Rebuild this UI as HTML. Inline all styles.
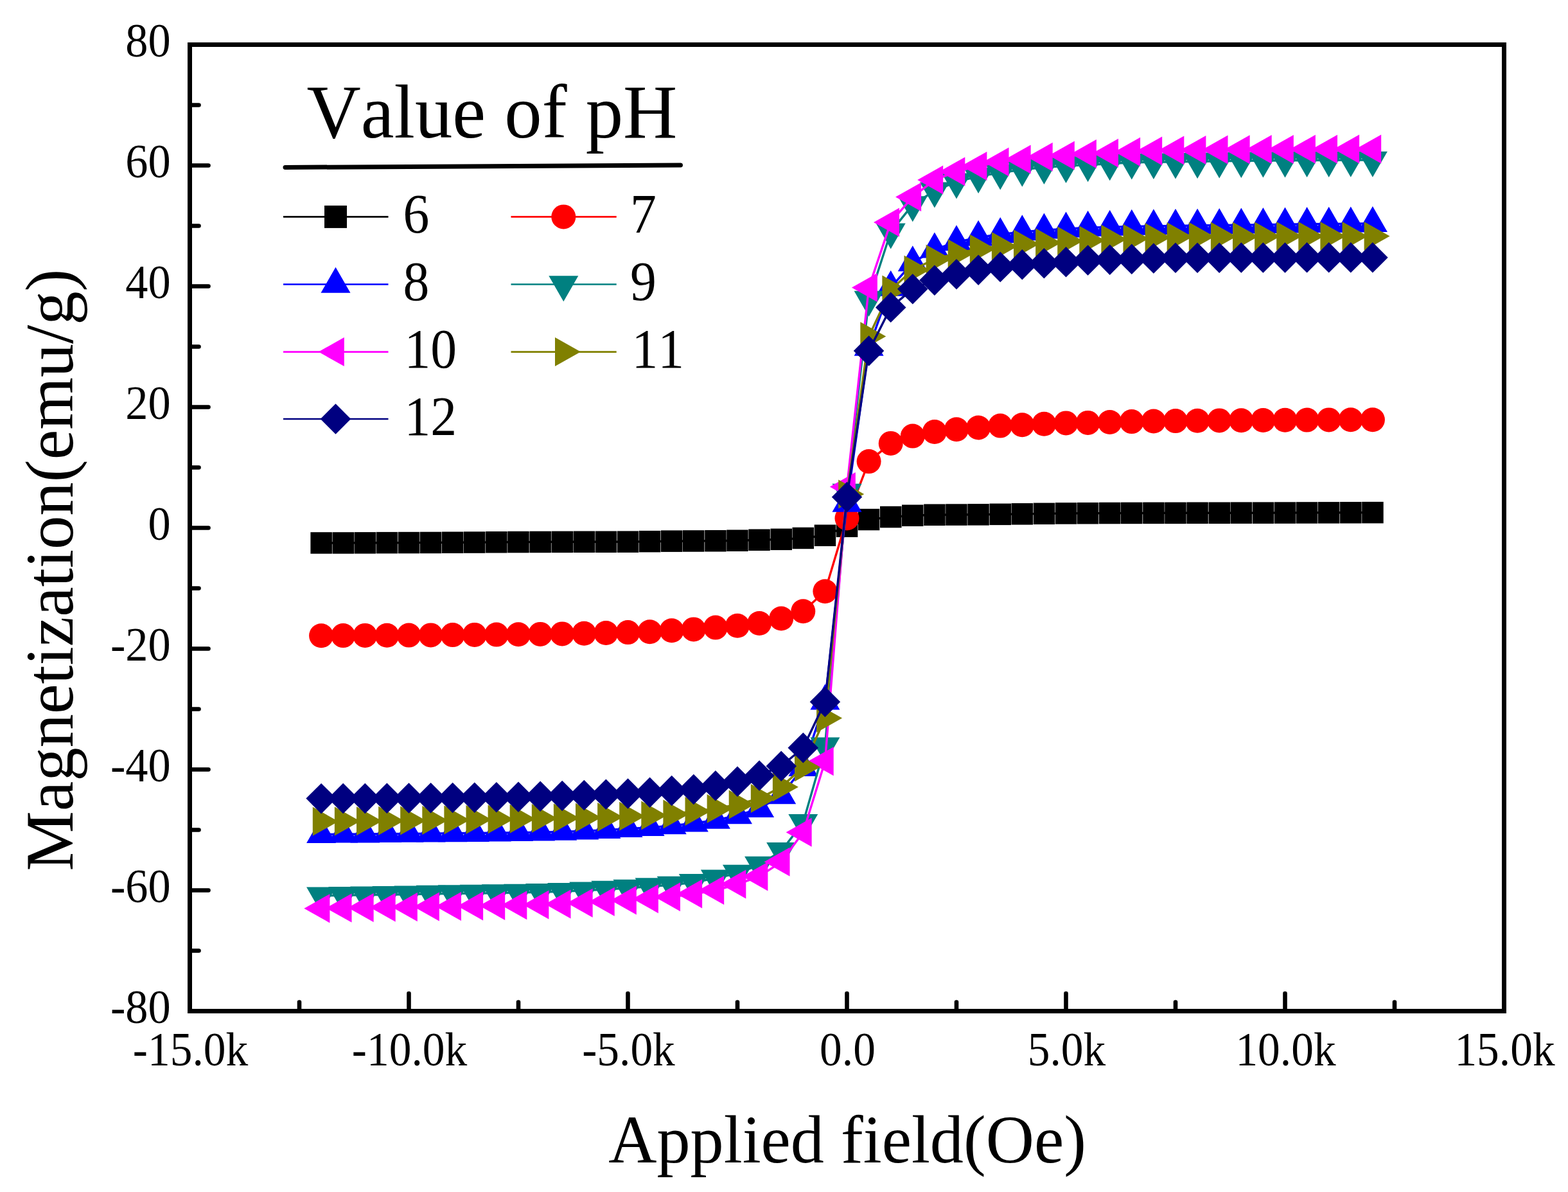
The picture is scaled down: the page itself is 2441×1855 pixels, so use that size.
<!DOCTYPE html>
<html><head><meta charset="utf-8"><title>Magnetization vs Applied field</title>
<style>
html,body{margin:0;padding:0;background:#fff;}
body{width:2441px;height:1855px;overflow:hidden;}
svg{display:block;}
text{font-family:"Liberation Serif","Times New Roman",serif;fill:#000;font-kerning:none;font-variant-ligatures:none;}
</style></head><body>
<svg width="2441" height="1855" viewBox="0 0 2441 1855">
<rect width="2441" height="1855" fill="#fff"/>
<g fill="#000000" stroke="none">
<polyline fill="none" stroke="#000000" stroke-width="3.4" stroke-linejoin="round" points="500.1,845 534.2,844.9 568.3,844.8 602.4,844.7 636.5,844.6 670.6,844.4 704.7,844.2 738.8,844 772.9,843.8 807,843.6 841.1,843.4 875.2,843.3 909.3,843.3 943.4,843.2 977.5,843.1 1011.6,842.7 1045.7,842.2 1079.8,841.9 1113.9,841.7 1148,841.2 1182.1,840.3 1216.2,839.4 1250.3,837.5 1284.4,833.2 1318.5,819.1 1352.6,808.5 1386.7,804.6 1420.8,802.2 1454.9,801.3 1489,801 1523.1,800.8 1557.2,800.4 1591.3,799.9 1625.4,799.4 1659.5,798.9 1693.6,798.7 1727.7,798.6 1761.8,798.5 1795.9,798.4 1830,798.3 1864.1,798.3 1898.2,798.2 1932.3,798.2 1966.4,798.1 2000.5,798 2034.6,797.9 2068.7,797.8 2102.8,797.7 2136.9,797.6"/>
<rect x="483.4" y="828.2" width="33.5" height="33.5"/>
<rect x="517.5" y="828.2" width="33.5" height="33.5"/>
<rect x="551.5" y="828.1" width="33.5" height="33.5"/>
<rect x="585.6" y="827.9" width="33.5" height="33.5"/>
<rect x="619.8" y="827.8" width="33.5" height="33.5"/>
<rect x="653.9" y="827.7" width="33.5" height="33.5"/>
<rect x="688" y="827.5" width="33.5" height="33.5"/>
<rect x="722" y="827.3" width="33.5" height="33.5"/>
<rect x="756.1" y="827" width="33.5" height="33.5"/>
<rect x="790.2" y="826.8" width="33.5" height="33.5"/>
<rect x="824.4" y="826.7" width="33.5" height="33.5"/>
<rect x="858.5" y="826.6" width="33.5" height="33.5"/>
<rect x="892.5" y="826.5" width="33.5" height="33.5"/>
<rect x="926.6" y="826.5" width="33.5" height="33.5"/>
<rect x="960.8" y="826.4" width="33.5" height="33.5"/>
<rect x="994.9" y="825.9" width="33.5" height="33.5"/>
<rect x="1029" y="825.4" width="33.5" height="33.5"/>
<rect x="1063" y="825.2" width="33.5" height="33.5"/>
<rect x="1097.2" y="825" width="33.5" height="33.5"/>
<rect x="1131.2" y="824.5" width="33.5" height="33.5"/>
<rect x="1165.3" y="823.5" width="33.5" height="33.5"/>
<rect x="1199.5" y="822.6" width="33.5" height="33.5"/>
<rect x="1233.5" y="820.7" width="33.5" height="33.5"/>
<rect x="1267.7" y="816.5" width="33.5" height="33.5"/>
<rect x="1301.8" y="802.4" width="33.5" height="33.5"/>
<rect x="1335.8" y="791.8" width="33.5" height="33.5"/>
<rect x="1370" y="787.8" width="33.5" height="33.5"/>
<rect x="1404" y="785.5" width="33.5" height="33.5"/>
<rect x="1438.2" y="784.5" width="33.5" height="33.5"/>
<rect x="1472.2" y="784.3" width="33.5" height="33.5"/>
<rect x="1506.3" y="784.1" width="33.5" height="33.5"/>
<rect x="1540.5" y="783.6" width="33.5" height="33.5"/>
<rect x="1574.5" y="783.1" width="33.5" height="33.5"/>
<rect x="1608.7" y="782.6" width="33.5" height="33.5"/>
<rect x="1642.8" y="782.2" width="33.5" height="33.5"/>
<rect x="1676.8" y="782" width="33.5" height="33.5"/>
<rect x="1711" y="781.8" width="33.5" height="33.5"/>
<rect x="1745" y="781.7" width="33.5" height="33.5"/>
<rect x="1779.2" y="781.6" width="33.5" height="33.5"/>
<rect x="1813.2" y="781.6" width="33.5" height="33.5"/>
<rect x="1847.3" y="781.5" width="33.5" height="33.5"/>
<rect x="1881.5" y="781.5" width="33.5" height="33.5"/>
<rect x="1915.5" y="781.4" width="33.5" height="33.5"/>
<rect x="1949.7" y="781.4" width="33.5" height="33.5"/>
<rect x="1983.8" y="781.3" width="33.5" height="33.5"/>
<rect x="2017.8" y="781.2" width="33.5" height="33.5"/>
<rect x="2051.9" y="781.1" width="33.5" height="33.5"/>
<rect x="2086.1" y="781" width="33.5" height="33.5"/>
<rect x="2120.2" y="780.9" width="33.5" height="33.5"/>
</g>
<g fill="#FF0000" stroke="none">
<polyline fill="none" stroke="#FF0000" stroke-width="3.4" stroke-linejoin="round" points="500.1,989.2 534.2,989.1 568.3,988.9 602.4,988.7 636.5,988.6 670.6,988.4 704.7,988.1 738.8,987.9 772.9,987.6 807,987.3 841.1,986.9 875.2,986.4 909.3,985.7 943.4,985 977.5,984.1 1011.6,983.2 1045.7,981.3 1079.8,979.4 1113.9,976.6 1148,973.8 1182.1,970 1216.2,962.5 1250.3,951.2 1284.4,920.2 1318.5,806.5 1352.6,718.1 1386.7,689.9 1420.8,678.6 1454.9,672 1489,668.3 1523.1,665.5 1557.2,662.6 1591.3,661.2 1625.4,659.8 1659.5,658.4 1693.6,657.9 1727.7,657 1761.8,656.1 1795.9,655.5 1830,655.1 1864.1,654.7 1898.2,654.4 1932.3,654.2 1966.4,654 2000.5,653.8 2034.6,653.6 2068.7,653.4 2102.8,653.3 2136.9,653.2"/>
<circle cx="500.1" cy="989.2" r="19"/>
<circle cx="534.2" cy="989.1" r="19"/>
<circle cx="568.3" cy="988.9" r="19"/>
<circle cx="602.4" cy="988.7" r="19"/>
<circle cx="636.5" cy="988.6" r="19"/>
<circle cx="670.6" cy="988.4" r="19"/>
<circle cx="704.7" cy="988.1" r="19"/>
<circle cx="738.8" cy="987.9" r="19"/>
<circle cx="772.9" cy="987.6" r="19"/>
<circle cx="807" cy="987.3" r="19"/>
<circle cx="841.1" cy="986.9" r="19"/>
<circle cx="875.2" cy="986.4" r="19"/>
<circle cx="909.3" cy="985.7" r="19"/>
<circle cx="943.4" cy="985" r="19"/>
<circle cx="977.5" cy="984.1" r="19"/>
<circle cx="1011.6" cy="983.2" r="19"/>
<circle cx="1045.7" cy="981.3" r="19"/>
<circle cx="1079.8" cy="979.4" r="19"/>
<circle cx="1113.9" cy="976.6" r="19"/>
<circle cx="1148" cy="973.8" r="19"/>
<circle cx="1182.1" cy="970" r="19"/>
<circle cx="1216.2" cy="962.5" r="19"/>
<circle cx="1250.3" cy="951.2" r="19"/>
<circle cx="1284.4" cy="920.2" r="19"/>
<circle cx="1318.5" cy="806.5" r="19"/>
<circle cx="1352.6" cy="718.1" r="19"/>
<circle cx="1386.7" cy="689.9" r="19"/>
<circle cx="1420.8" cy="678.6" r="19"/>
<circle cx="1454.9" cy="672" r="19"/>
<circle cx="1489" cy="668.3" r="19"/>
<circle cx="1523.1" cy="665.5" r="19"/>
<circle cx="1557.2" cy="662.6" r="19"/>
<circle cx="1591.3" cy="661.2" r="19"/>
<circle cx="1625.4" cy="659.8" r="19"/>
<circle cx="1659.5" cy="658.4" r="19"/>
<circle cx="1693.6" cy="657.9" r="19"/>
<circle cx="1727.7" cy="657" r="19"/>
<circle cx="1761.8" cy="656.1" r="19"/>
<circle cx="1795.9" cy="655.5" r="19"/>
<circle cx="1830" cy="655.1" r="19"/>
<circle cx="1864.1" cy="654.7" r="19"/>
<circle cx="1898.2" cy="654.4" r="19"/>
<circle cx="1932.3" cy="654.2" r="19"/>
<circle cx="1966.4" cy="654" r="19"/>
<circle cx="2000.5" cy="653.8" r="19"/>
<circle cx="2034.6" cy="653.6" r="19"/>
<circle cx="2068.7" cy="653.4" r="19"/>
<circle cx="2102.8" cy="653.3" r="19"/>
<circle cx="2136.9" cy="653.2" r="19"/>
</g>
<g fill="#0000FF" stroke="none">
<polyline fill="none" stroke="#0000FF" stroke-width="3.4" stroke-linejoin="round" points="500.1,1298.5 534.2,1298.3 568.3,1298 602.4,1297.8 636.5,1297.5 670.6,1297.1 704.7,1296.8 738.8,1296.5 772.9,1296.2 807,1295.8 841.1,1295.3 875.2,1294.4 909.3,1293.2 943.4,1291.6 977.5,1289.8 1011.6,1287.7 1045.7,1284.9 1079.8,1281.2 1113.9,1276.5 1148,1268.9 1182.1,1258.6 1216.2,1237.9 1250.3,1194.7 1284.4,1091.3 1318.5,783.4 1352.6,540.4 1386.7,447.4 1420.8,408.8 1454.9,388.2 1489,376.9 1523.1,369.4 1557.2,364.7 1591.3,360.9 1625.4,358.1 1659.5,356.2 1693.6,354.3 1727.7,353.4 1761.8,352.4 1795.9,351.9 1830,351.5 1864.1,351 1898.2,350.5 1932.3,350.1 1966.4,349.6 2000.5,349.2 2034.6,348.8 2068.7,348.4 2102.8,348.1 2136.9,347.7"/>
<polygon points="500.1,1271.9 523.1,1311.9 477.1,1311.9"/>
<polygon points="534.2,1271.6 557.2,1311.6 511.2,1311.6"/>
<polygon points="568.3,1271.4 591.3,1311.4 545.3,1311.4"/>
<polygon points="602.4,1271.1 625.4,1311.1 579.4,1311.1"/>
<polygon points="636.5,1270.8 659.5,1310.8 613.5,1310.8"/>
<polygon points="670.6,1270.5 693.6,1310.5 647.6,1310.5"/>
<polygon points="704.7,1270.2 727.7,1310.2 681.7,1310.2"/>
<polygon points="738.8,1269.9 761.8,1309.9 715.8,1309.9"/>
<polygon points="772.9,1269.5 795.9,1309.5 749.9,1309.5"/>
<polygon points="807,1269.1 830,1309.1 784,1309.1"/>
<polygon points="841.1,1268.6 864.1,1308.6 818.1,1308.6"/>
<polygon points="875.2,1267.8 898.2,1307.8 852.2,1307.8"/>
<polygon points="909.3,1266.5 932.3,1306.5 886.3,1306.5"/>
<polygon points="943.4,1264.9 966.4,1304.9 920.4,1304.9"/>
<polygon points="977.5,1263.1 1000.5,1303.1 954.5,1303.1"/>
<polygon points="1011.6,1261.1 1034.6,1301.1 988.6,1301.1"/>
<polygon points="1045.7,1258.3 1068.7,1298.3 1022.7,1298.3"/>
<polygon points="1079.8,1254.5 1102.8,1294.5 1056.8,1294.5"/>
<polygon points="1113.9,1249.8 1136.9,1289.8 1090.9,1289.8"/>
<polygon points="1148,1242.3 1171,1282.3 1125,1282.3"/>
<polygon points="1182.1,1231.9 1205.1,1271.9 1159.1,1271.9"/>
<polygon points="1216.2,1211.3 1239.2,1251.3 1193.2,1251.3"/>
<polygon points="1250.3,1168 1273.3,1208 1227.3,1208"/>
<polygon points="1284.4,1064.6 1307.4,1104.6 1261.4,1104.6"/>
<polygon points="1318.5,756.8 1341.5,796.8 1295.5,796.8"/>
<polygon points="1352.6,513.8 1375.6,553.8 1329.6,553.8"/>
<polygon points="1386.7,420.7 1409.7,460.7 1363.7,460.7"/>
<polygon points="1420.8,382.2 1443.8,422.2 1397.8,422.2"/>
<polygon points="1454.9,361.5 1477.9,401.5 1431.9,401.5"/>
<polygon points="1489,350.2 1512,390.2 1466,390.2"/>
<polygon points="1523.1,342.7 1546.1,382.7 1500.1,382.7"/>
<polygon points="1557.2,338 1580.2,378 1534.2,378"/>
<polygon points="1591.3,334.2 1614.3,374.2 1568.3,374.2"/>
<polygon points="1625.4,331.4 1648.4,371.4 1602.4,371.4"/>
<polygon points="1659.5,329.5 1682.5,369.5 1636.5,369.5"/>
<polygon points="1693.6,327.7 1716.6,367.7 1670.6,367.7"/>
<polygon points="1727.7,326.7 1750.7,366.7 1704.7,366.7"/>
<polygon points="1761.8,325.8 1784.8,365.8 1738.8,365.8"/>
<polygon points="1795.9,325.3 1818.9,365.3 1772.9,365.3"/>
<polygon points="1830,324.8 1853,364.8 1807,364.8"/>
<polygon points="1864.1,324.4 1887.1,364.4 1841.1,364.4"/>
<polygon points="1898.2,323.9 1921.2,363.9 1875.2,363.9"/>
<polygon points="1932.3,323.4 1955.3,363.4 1909.3,363.4"/>
<polygon points="1966.4,323 1989.4,363 1943.4,363"/>
<polygon points="2000.5,322.5 2023.5,362.5 1977.5,362.5"/>
<polygon points="2034.6,322.1 2057.6,362.1 2011.6,362.1"/>
<polygon points="2068.7,321.8 2091.7,361.8 2045.7,361.8"/>
<polygon points="2102.8,321.4 2125.8,361.4 2079.8,361.4"/>
<polygon points="2136.9,321.1 2159.9,361.1 2113.9,361.1"/>
</g>
<g fill="#008080" stroke="none">
<polyline fill="none" stroke="#008080" stroke-width="3.4" stroke-linejoin="round" points="500.1,1394 534.2,1393.4 568.3,1392.8 602.4,1392.3 636.5,1391.7 670.6,1391.1 704.7,1390.6 738.8,1390.2 772.9,1389.7 807,1389.1 841.1,1388.3 875.2,1387.3 909.3,1385.8 943.4,1384.1 977.5,1382 1011.6,1379.6 1045.7,1377 1079.8,1373.3 1113.9,1366.7 1148,1359.2 1182.1,1346 1216.2,1324.4 1250.3,1280.2 1284.4,1160.8 1318.5,766 1352.6,466.2 1386.7,360.9 1420.8,318.6 1454.9,297 1489,282.9 1523.1,274.4 1557.2,268.8 1591.3,264.1 1625.4,260.3 1659.5,258.4 1693.6,256.6 1727.7,254.7 1761.8,252.8 1795.9,252.2 1830,251.9 1864.1,251.4 1898.2,250.8 1932.3,250.3 1966.4,250 2000.5,249.7 2034.6,249.5 2068.7,249.3 2102.8,249.1 2136.9,249"/>
<polygon points="500.1,1420.6 523.1,1380.6 477.1,1380.6"/>
<polygon points="534.2,1420.1 557.2,1380.1 511.2,1380.1"/>
<polygon points="568.3,1419.5 591.3,1379.5 545.3,1379.5"/>
<polygon points="602.4,1418.9 625.4,1378.9 579.4,1378.9"/>
<polygon points="636.5,1418.4 659.5,1378.4 613.5,1378.4"/>
<polygon points="670.6,1417.8 693.6,1377.8 647.6,1377.8"/>
<polygon points="704.7,1417.3 727.7,1377.3 681.7,1377.3"/>
<polygon points="738.8,1416.8 761.8,1376.8 715.8,1376.8"/>
<polygon points="772.9,1416.3 795.9,1376.3 749.9,1376.3"/>
<polygon points="807,1415.7 830,1375.7 784,1375.7"/>
<polygon points="841.1,1415 864.1,1375 818.1,1375"/>
<polygon points="875.2,1413.9 898.2,1373.9 852.2,1373.9"/>
<polygon points="909.3,1412.5 932.3,1372.5 886.3,1372.5"/>
<polygon points="943.4,1410.7 966.4,1370.7 920.4,1370.7"/>
<polygon points="977.5,1408.7 1000.5,1368.7 954.5,1368.7"/>
<polygon points="1011.6,1406.3 1034.6,1366.3 988.6,1366.3"/>
<polygon points="1045.7,1403.7 1068.7,1363.7 1022.7,1363.7"/>
<polygon points="1079.8,1399.9 1102.8,1359.9 1056.8,1359.9"/>
<polygon points="1113.9,1393.4 1136.9,1353.4 1090.9,1353.4"/>
<polygon points="1148,1385.8 1171,1345.8 1125,1345.8"/>
<polygon points="1182.1,1372.7 1205.1,1332.7 1159.1,1332.7"/>
<polygon points="1216.2,1351.1 1239.2,1311.1 1193.2,1311.1"/>
<polygon points="1250.3,1306.9 1273.3,1266.9 1227.3,1266.9"/>
<polygon points="1284.4,1187.5 1307.4,1147.5 1261.4,1147.5"/>
<polygon points="1318.5,792.7 1341.5,752.7 1295.5,752.7"/>
<polygon points="1352.6,492.8 1375.6,452.8 1329.6,452.8"/>
<polygon points="1386.7,387.6 1409.7,347.6 1363.7,347.6"/>
<polygon points="1420.8,345.3 1443.8,305.3 1397.8,305.3"/>
<polygon points="1454.9,323.6 1477.9,283.6 1431.9,283.6"/>
<polygon points="1489,309.5 1512,269.5 1466,269.5"/>
<polygon points="1523.1,301.1 1546.1,261.1 1500.1,261.1"/>
<polygon points="1557.2,295.4 1580.2,255.4 1534.2,255.4"/>
<polygon points="1591.3,290.7 1614.3,250.7 1568.3,250.7"/>
<polygon points="1625.4,287 1648.4,247 1602.4,247"/>
<polygon points="1659.5,285.1 1682.5,245.1 1636.5,245.1"/>
<polygon points="1693.6,283.2 1716.6,243.2 1670.6,243.2"/>
<polygon points="1727.7,281.3 1750.7,241.3 1704.7,241.3"/>
<polygon points="1761.8,279.5 1784.8,239.5 1738.8,239.5"/>
<polygon points="1795.9,278.9 1818.9,238.9 1772.9,238.9"/>
<polygon points="1830,278.5 1853,238.5 1807,238.5"/>
<polygon points="1864.1,278 1887.1,238 1841.1,238"/>
<polygon points="1898.2,277.5 1921.2,237.5 1875.2,237.5"/>
<polygon points="1932.3,277 1955.3,237 1909.3,237"/>
<polygon points="1966.4,276.6 1989.4,236.6 1943.4,236.6"/>
<polygon points="2000.5,276.4 2023.5,236.4 1977.5,236.4"/>
<polygon points="2034.6,276.1 2057.6,236.1 2011.6,236.1"/>
<polygon points="2068.7,275.9 2091.7,235.9 2045.7,235.9"/>
<polygon points="2102.8,275.8 2125.8,235.8 2079.8,235.8"/>
<polygon points="2136.9,275.7 2159.9,235.7 2113.9,235.7"/>
</g>
<g fill="#FF00FF" stroke="none">
<polyline fill="none" stroke="#FF00FF" stroke-width="3.4" stroke-linejoin="round" points="500.1,1413.7 534.2,1413.1 568.3,1412.6 602.4,1412 636.5,1411.4 670.6,1410.9 704.7,1410.4 738.8,1409.9 772.9,1409.4 807,1408.8 841.1,1408.1 875.2,1406.9 909.3,1405.3 943.4,1403.3 977.5,1401 1011.6,1398.7 1045.7,1395.8 1079.8,1391.1 1113.9,1385.5 1148,1376.1 1182.1,1363.9 1216.2,1341.3 1250.3,1295.3 1284.4,1184.8 1318.5,757.6 1352.6,447.4 1386.7,345.9 1420.8,306.4 1454.9,280.1 1489,266.9 1523.1,258.4 1557.2,251.9 1591.3,248.1 1625.4,244.3 1659.5,242 1693.6,239.6 1727.7,238.2 1761.8,236.3 1795.9,234.9 1830,234 1864.1,233.5 1898.2,233.1 1932.3,232.8 1966.4,232.6 2000.5,232.4 2034.6,232.3 2068.7,232.2 2102.8,232.1 2136.9,232.1"/>
<polygon points="473.4,1413.7 513.4,1391.2 513.4,1436.2"/>
<polygon points="507.5,1413.1 547.5,1390.6 547.5,1435.6"/>
<polygon points="541.6,1412.6 581.6,1390.1 581.6,1435.1"/>
<polygon points="575.7,1412 615.7,1389.5 615.7,1434.5"/>
<polygon points="609.8,1411.4 649.8,1388.9 649.8,1433.9"/>
<polygon points="643.9,1410.9 683.9,1388.4 683.9,1433.4"/>
<polygon points="678,1410.4 718,1387.9 718,1432.9"/>
<polygon points="712.1,1409.9 752.1,1387.4 752.1,1432.4"/>
<polygon points="746.2,1409.4 786.2,1386.9 786.2,1431.9"/>
<polygon points="780.3,1408.8 820.3,1386.3 820.3,1431.3"/>
<polygon points="814.4,1408.1 854.4,1385.6 854.4,1430.6"/>
<polygon points="848.5,1406.9 888.5,1384.4 888.5,1429.4"/>
<polygon points="882.6,1405.3 922.6,1382.8 922.6,1427.8"/>
<polygon points="916.7,1403.3 956.7,1380.8 956.7,1425.8"/>
<polygon points="950.8,1401 990.8,1378.5 990.8,1423.5"/>
<polygon points="984.9,1398.7 1024.9,1376.2 1024.9,1421.2"/>
<polygon points="1019,1395.8 1059,1373.3 1059,1418.3"/>
<polygon points="1053.1,1391.1 1093.1,1368.6 1093.1,1413.6"/>
<polygon points="1087.2,1385.5 1127.2,1363 1127.2,1408"/>
<polygon points="1121.3,1376.1 1161.3,1353.6 1161.3,1398.6"/>
<polygon points="1155.4,1363.9 1195.4,1341.4 1195.4,1386.4"/>
<polygon points="1189.5,1341.3 1229.5,1318.8 1229.5,1363.8"/>
<polygon points="1223.6,1295.3 1263.6,1272.8 1263.6,1317.8"/>
<polygon points="1257.7,1184.8 1297.7,1162.3 1297.7,1207.3"/>
<polygon points="1291.8,757.6 1331.8,735.1 1331.8,780.1"/>
<polygon points="1325.9,447.4 1365.9,424.9 1365.9,469.9"/>
<polygon points="1360,345.9 1400,323.4 1400,368.4"/>
<polygon points="1394.1,306.4 1434.1,283.9 1434.1,328.9"/>
<polygon points="1428.2,280.1 1468.2,257.6 1468.2,302.6"/>
<polygon points="1462.3,266.9 1502.3,244.4 1502.3,289.4"/>
<polygon points="1496.4,258.4 1536.4,235.9 1536.4,280.9"/>
<polygon points="1530.5,251.9 1570.5,229.4 1570.5,274.4"/>
<polygon points="1564.6,248.1 1604.6,225.6 1604.6,270.6"/>
<polygon points="1598.7,244.3 1638.7,221.8 1638.7,266.8"/>
<polygon points="1632.8,242 1672.8,219.5 1672.8,264.5"/>
<polygon points="1666.9,239.6 1706.9,217.1 1706.9,262.1"/>
<polygon points="1701,238.2 1741,215.7 1741,260.7"/>
<polygon points="1735.1,236.3 1775.1,213.8 1775.1,258.9"/>
<polygon points="1769.2,234.9 1809.2,212.4 1809.2,257.4"/>
<polygon points="1803.3,234 1843.3,211.5 1843.3,256.5"/>
<polygon points="1837.4,233.5 1877.4,211 1877.4,256"/>
<polygon points="1871.5,233.1 1911.5,210.6 1911.5,255.6"/>
<polygon points="1905.6,232.8 1945.6,210.3 1945.6,255.3"/>
<polygon points="1939.7,232.6 1979.7,210.1 1979.7,255.1"/>
<polygon points="1973.8,232.4 2013.8,209.9 2013.8,254.9"/>
<polygon points="2007.9,232.3 2047.9,209.8 2047.9,254.8"/>
<polygon points="2042,232.2 2082,209.7 2082,254.7"/>
<polygon points="2076.1,232.1 2116.1,209.6 2116.1,254.6"/>
<polygon points="2110.2,232.1 2150.2,209.6 2150.2,254.6"/>
</g>
<g fill="#808000" stroke="none">
<polyline fill="none" stroke="#808000" stroke-width="3.4" stroke-linejoin="round" points="500.1,1278.3 534.2,1278 568.3,1277.7 602.4,1277.3 636.5,1276.9 670.6,1276.5 704.7,1276 738.8,1275.5 772.9,1274.9 807,1274.3 841.1,1273.6 875.2,1272.9 909.3,1272.2 943.4,1271.4 977.5,1270.3 1011.6,1268.9 1045.7,1267.1 1079.8,1262.4 1113.9,1258.6 1148,1252 1182.1,1242.6 1216.2,1224.8 1250.3,1193.7 1284.4,1117.6 1318.5,768.9 1352.6,523.5 1386.7,451.1 1420.8,420.1 1454.9,403.2 1489,394.7 1523.1,387.2 1557.2,383.5 1591.3,379.7 1625.4,377.8 1659.5,375 1693.6,374.1 1727.7,372.2 1761.8,371.2 1795.9,369.6 1830,368.4 1864.1,368.2 1898.2,368 1932.3,367.9 1966.4,367.7 2000.5,367.6 2034.6,367.6 2068.7,367.5 2102.8,367.5 2136.9,367.5"/>
<polygon points="526.8,1278.3 486.8,1255.8 486.8,1300.8"/>
<polygon points="560.9,1278 520.9,1255.5 520.9,1300.5"/>
<polygon points="595,1277.7 555,1255.2 555,1300.2"/>
<polygon points="629.1,1277.3 589.1,1254.8 589.1,1299.8"/>
<polygon points="663.2,1276.9 623.2,1254.4 623.2,1299.4"/>
<polygon points="697.3,1276.5 657.3,1254 657.3,1299"/>
<polygon points="731.4,1276 691.4,1253.5 691.4,1298.5"/>
<polygon points="765.5,1275.5 725.5,1253 725.5,1298"/>
<polygon points="799.6,1274.9 759.6,1252.4 759.6,1297.4"/>
<polygon points="833.7,1274.3 793.7,1251.8 793.7,1296.8"/>
<polygon points="867.8,1273.6 827.8,1251.1 827.8,1296.1"/>
<polygon points="901.9,1272.9 861.9,1250.4 861.9,1295.4"/>
<polygon points="936,1272.2 896,1249.7 896,1294.7"/>
<polygon points="970.1,1271.4 930.1,1248.9 930.1,1293.9"/>
<polygon points="1004.2,1270.3 964.2,1247.8 964.2,1292.8"/>
<polygon points="1038.3,1268.9 998.3,1246.4 998.3,1291.4"/>
<polygon points="1072.4,1267.1 1032.4,1244.6 1032.4,1289.6"/>
<polygon points="1106.5,1262.4 1066.5,1239.9 1066.5,1284.9"/>
<polygon points="1140.6,1258.6 1100.6,1236.1 1100.6,1281.1"/>
<polygon points="1174.7,1252 1134.7,1229.5 1134.7,1274.5"/>
<polygon points="1208.8,1242.6 1168.8,1220.1 1168.8,1265.1"/>
<polygon points="1242.9,1224.8 1202.9,1202.3 1202.9,1247.3"/>
<polygon points="1277,1193.7 1237,1171.2 1237,1216.2"/>
<polygon points="1311.1,1117.6 1271.1,1095.1 1271.1,1140.1"/>
<polygon points="1345.2,768.9 1305.2,746.4 1305.2,791.4"/>
<polygon points="1379.3,523.5 1339.3,501 1339.3,546"/>
<polygon points="1413.4,451.1 1373.4,428.6 1373.4,473.6"/>
<polygon points="1447.5,420.1 1407.5,397.6 1407.5,442.6"/>
<polygon points="1481.6,403.2 1441.6,380.7 1441.6,425.7"/>
<polygon points="1515.7,394.7 1475.7,372.2 1475.7,417.2"/>
<polygon points="1549.8,387.2 1509.8,364.7 1509.8,409.7"/>
<polygon points="1583.9,383.5 1543.9,361 1543.9,406"/>
<polygon points="1618,379.7 1578,357.2 1578,402.2"/>
<polygon points="1652.1,377.8 1612.1,355.3 1612.1,400.3"/>
<polygon points="1686.2,375 1646.2,352.5 1646.2,397.5"/>
<polygon points="1720.3,374.1 1680.3,351.6 1680.3,396.6"/>
<polygon points="1754.4,372.2 1714.4,349.7 1714.4,394.7"/>
<polygon points="1788.5,371.2 1748.5,348.7 1748.5,393.7"/>
<polygon points="1822.6,369.6 1782.6,347.1 1782.6,392.1"/>
<polygon points="1856.7,368.4 1816.7,345.9 1816.7,390.9"/>
<polygon points="1890.8,368.2 1850.8,345.7 1850.8,390.7"/>
<polygon points="1924.9,368 1884.9,345.5 1884.9,390.5"/>
<polygon points="1959,367.9 1919,345.4 1919,390.4"/>
<polygon points="1993.1,367.7 1953.1,345.2 1953.1,390.2"/>
<polygon points="2027.2,367.6 1987.2,345.1 1987.2,390.1"/>
<polygon points="2061.3,367.6 2021.3,345.1 2021.3,390.1"/>
<polygon points="2095.4,367.5 2055.4,345 2055.4,390"/>
<polygon points="2129.5,367.5 2089.5,345 2089.5,390"/>
<polygon points="2163.6,367.5 2123.6,345 2123.6,390"/>
</g>
<g fill="#000080" stroke="none">
<polyline fill="none" stroke="#000080" stroke-width="3.4" stroke-linejoin="round" points="500.1,1242.6 534.2,1242.6 568.3,1242.5 602.4,1242.3 636.5,1242.1 670.6,1241.8 704.7,1241.5 738.8,1241.1 772.9,1240.7 807,1240.2 841.1,1239.3 875.2,1238.4 909.3,1237.5 943.4,1236.3 977.5,1234.9 1011.6,1233.2 1045.7,1230.4 1079.8,1228.5 1113.9,1222.9 1148,1216.3 1182.1,1206.9 1216.2,1192.3 1250.3,1163.7 1284.4,1092.2 1318.5,773.6 1352.6,546.1 1386.7,478.4 1420.8,449.7 1454.9,436.1 1489,426.7 1523.1,420.1 1557.2,415.4 1591.3,411.7 1625.4,409.8 1659.5,407.9 1693.6,405.1 1727.7,404.1 1761.8,403.2 1795.9,402.1 1830,401.3 1864.1,401.2 1898.2,401.1 1932.3,401 1966.4,401 2000.5,400.9 2034.6,400.9 2068.7,400.9 2102.8,400.9 2136.9,400.8"/>
<polygon points="500.1,1218.9 523.9,1242.6 500.1,1266.4 476.4,1242.6"/>
<polygon points="534.2,1218.8 558,1242.6 534.2,1266.3 510.5,1242.6"/>
<polygon points="568.3,1218.7 592,1242.5 568.3,1266.2 544.5,1242.5"/>
<polygon points="602.4,1218.6 626.1,1242.3 602.4,1266.1 578.6,1242.3"/>
<polygon points="636.5,1218.3 660.2,1242.1 636.5,1265.8 612.8,1242.1"/>
<polygon points="670.6,1218 694.4,1241.8 670.6,1265.5 646.9,1241.8"/>
<polygon points="704.7,1217.7 728.5,1241.5 704.7,1265.2 681,1241.5"/>
<polygon points="738.8,1217.4 762.5,1241.1 738.8,1264.9 715,1241.1"/>
<polygon points="772.9,1217 796.6,1240.7 772.9,1264.5 749.1,1240.7"/>
<polygon points="807,1216.4 830.8,1240.2 807,1263.9 783.2,1240.2"/>
<polygon points="841.1,1215.6 864.9,1239.3 841.1,1263.1 817.4,1239.3"/>
<polygon points="875.2,1214.7 899,1238.4 875.2,1262.2 851.5,1238.4"/>
<polygon points="909.3,1213.7 933,1237.5 909.3,1261.2 885.5,1237.5"/>
<polygon points="943.4,1212.6 967.1,1236.3 943.4,1260.1 919.6,1236.3"/>
<polygon points="977.5,1211.2 1001.2,1234.9 977.5,1258.7 953.8,1234.9"/>
<polygon points="1011.6,1209.5 1035.3,1233.2 1011.6,1257 987.9,1233.2"/>
<polygon points="1045.7,1206.7 1069.5,1230.4 1045.7,1254.2 1022,1230.4"/>
<polygon points="1079.8,1204.8 1103.5,1228.5 1079.8,1252.3 1056,1228.5"/>
<polygon points="1113.9,1199.1 1137.7,1222.9 1113.9,1246.6 1090.2,1222.9"/>
<polygon points="1148,1192.5 1171.8,1216.3 1148,1240 1124.2,1216.3"/>
<polygon points="1182.1,1183.2 1205.8,1206.9 1182.1,1230.7 1158.3,1206.9"/>
<polygon points="1216.2,1168.6 1240,1192.3 1216.2,1216.1 1192.5,1192.3"/>
<polygon points="1250.3,1139.9 1274,1163.7 1250.3,1187.4 1226.5,1163.7"/>
<polygon points="1284.4,1068.5 1308.2,1092.2 1284.4,1116 1260.7,1092.2"/>
<polygon points="1318.5,749.8 1342.2,773.6 1318.5,797.3 1294.8,773.6"/>
<polygon points="1352.6,522.3 1376.3,546.1 1352.6,569.8 1328.8,546.1"/>
<polygon points="1386.7,454.6 1410.5,478.4 1386.7,502.1 1363,478.4"/>
<polygon points="1420.8,426 1444.5,449.7 1420.8,473.5 1397,449.7"/>
<polygon points="1454.9,412.4 1478.7,436.1 1454.9,459.9 1431.2,436.1"/>
<polygon points="1489,402.9 1512.8,426.7 1489,450.4 1465.2,426.7"/>
<polygon points="1523.1,396.4 1546.8,420.1 1523.1,443.9 1499.3,420.1"/>
<polygon points="1557.2,391.7 1581,415.4 1557.2,439.2 1533.5,415.4"/>
<polygon points="1591.3,387.9 1615,411.7 1591.3,435.4 1567.5,411.7"/>
<polygon points="1625.4,386 1649.2,409.8 1625.4,433.5 1601.7,409.8"/>
<polygon points="1659.5,384.1 1683.2,407.9 1659.5,431.6 1635.8,407.9"/>
<polygon points="1693.6,381.3 1717.3,405.1 1693.6,428.8 1669.8,405.1"/>
<polygon points="1727.7,380.4 1751.5,404.1 1727.7,427.9 1704,404.1"/>
<polygon points="1761.8,379.4 1785.5,403.2 1761.8,426.9 1738,403.2"/>
<polygon points="1795.9,378.3 1819.7,402.1 1795.9,425.8 1772.2,402.1"/>
<polygon points="1830,377.6 1853.8,401.3 1830,425.1 1806.2,401.3"/>
<polygon points="1864.1,377.5 1887.8,401.2 1864.1,425 1840.3,401.2"/>
<polygon points="1898.2,377.4 1922,401.1 1898.2,424.9 1874.5,401.1"/>
<polygon points="1932.3,377.3 1956,401 1932.3,424.8 1908.5,401"/>
<polygon points="1966.4,377.2 1990.2,401 1966.4,424.7 1942.7,401"/>
<polygon points="2000.5,377.2 2024.2,400.9 2000.5,424.7 1976.8,400.9"/>
<polygon points="2034.6,377.1 2058.3,400.9 2034.6,424.6 2010.8,400.9"/>
<polygon points="2068.7,377.1 2092.4,400.9 2068.7,424.6 2044.9,400.9"/>
<polygon points="2102.8,377.1 2126.6,400.9 2102.8,424.6 2079.1,400.9"/>
<polygon points="2136.9,377.1 2160.7,400.8 2136.9,424.6 2113.2,400.8"/>
</g>
<g stroke="#000" fill="none" stroke-linecap="round">
<line x1="295.5" y1="1479.5" x2="309.5" y2="1479.5" stroke-width="6.6"/>
<line x1="295.5" y1="1385.5" x2="324.5" y2="1385.5" stroke-width="6.6"/>
<line x1="295.5" y1="1291.5" x2="309.5" y2="1291.5" stroke-width="6.6"/>
<line x1="295.5" y1="1197.5" x2="324.5" y2="1197.5" stroke-width="6.6"/>
<line x1="295.5" y1="1103.5" x2="309.5" y2="1103.5" stroke-width="6.6"/>
<line x1="295.5" y1="1009.5" x2="324.5" y2="1009.5" stroke-width="6.6"/>
<line x1="295.5" y1="915.5" x2="309.5" y2="915.5" stroke-width="6.6"/>
<line x1="295.5" y1="821.5" x2="324.5" y2="821.5" stroke-width="6.6"/>
<line x1="295.5" y1="727.5" x2="309.5" y2="727.5" stroke-width="6.6"/>
<line x1="295.5" y1="633.5" x2="324.5" y2="633.5" stroke-width="6.6"/>
<line x1="295.5" y1="539.5" x2="309.5" y2="539.5" stroke-width="6.6"/>
<line x1="295.5" y1="445.5" x2="324.5" y2="445.5" stroke-width="6.6"/>
<line x1="295.5" y1="351.5" x2="309.5" y2="351.5" stroke-width="6.6"/>
<line x1="295.5" y1="257.5" x2="324.5" y2="257.5" stroke-width="6.6"/>
<line x1="295.5" y1="163.5" x2="309.5" y2="163.5" stroke-width="6.6"/>
<line x1="466" y1="1573.5" x2="466" y2="1559.5" stroke-width="6.6"/>
<line x1="636.5" y1="1573.5" x2="636.5" y2="1546" stroke-width="6.6"/>
<line x1="807" y1="1573.5" x2="807" y2="1559.5" stroke-width="6.6"/>
<line x1="977.5" y1="1573.5" x2="977.5" y2="1546" stroke-width="6.6"/>
<line x1="1148" y1="1573.5" x2="1148" y2="1559.5" stroke-width="6.6"/>
<line x1="1318.5" y1="1573.5" x2="1318.5" y2="1546" stroke-width="6.6"/>
<line x1="1489" y1="1573.5" x2="1489" y2="1559.5" stroke-width="6.6"/>
<line x1="1659.5" y1="1573.5" x2="1659.5" y2="1546" stroke-width="6.6"/>
<line x1="1830" y1="1573.5" x2="1830" y2="1559.5" stroke-width="6.6"/>
<line x1="2000.5" y1="1573.5" x2="2000.5" y2="1546" stroke-width="6.6"/>
<line x1="2171" y1="1573.5" x2="2171" y2="1559.5" stroke-width="6.6"/>
</g>
<rect x="295.5" y="69.5" width="2046" height="1504" fill="none" stroke="#000" stroke-width="7" stroke-linejoin="miter"/>
<text transform="translate(265.7 1592.3) scale(0.946 1)" font-size="74.4" text-anchor="end">-80</text>
<text transform="translate(265.7 1404.3) scale(0.946 1)" font-size="74.4" text-anchor="end">-60</text>
<text transform="translate(265.7 1216.3) scale(0.946 1)" font-size="74.4" text-anchor="end">-40</text>
<text transform="translate(265.7 1028.3) scale(0.946 1)" font-size="74.4" text-anchor="end">-20</text>
<text transform="translate(265.7 840.3) scale(0.946 1)" font-size="74.4" text-anchor="end">0</text>
<text transform="translate(265.7 652.3) scale(0.946 1)" font-size="74.4" text-anchor="end">20</text>
<text transform="translate(265.7 464.3) scale(0.946 1)" font-size="74.4" text-anchor="end">40</text>
<text transform="translate(265.7 276.3) scale(0.946 1)" font-size="74.4" text-anchor="end">60</text>
<text transform="translate(265.7 88.3) scale(0.946 1)" font-size="74.4" text-anchor="end">80</text>
<text transform="translate(296.5 1658) scale(0.937 1)" font-size="74.1" text-anchor="middle">-15.0k</text>
<text transform="translate(637.5 1658) scale(0.937 1)" font-size="74.1" text-anchor="middle">-10.0k</text>
<text transform="translate(978.5 1658) scale(0.937 1)" font-size="74.1" text-anchor="middle">-5.0k</text>
<text transform="translate(1319.5 1658) scale(0.937 1)" font-size="74.1" text-anchor="middle">0.0</text>
<text transform="translate(1660.5 1658) scale(0.937 1)" font-size="74.1" text-anchor="middle">5.0k</text>
<text transform="translate(2001.5 1658) scale(0.937 1)" font-size="74.1" text-anchor="middle">10.0k</text>
<text transform="translate(2342.5 1658) scale(0.937 1)" font-size="74.1" text-anchor="middle">15.0k</text>
<text transform="translate(947.2 1808.5) scale(0.9832 1)" font-size="106.0">Applied field(Oe)</text>
<text transform="translate(113.3 1355.5) rotate(-90) scale(0.9934 1)" font-size="105.5">Magnetization(emu/g)</text>
<text transform="translate(477.4 214) scale(0.9826 1)" font-size="118.8">Value of pH</text>
<line x1="444" y1="260.5" x2="1059.5" y2="257" stroke="#000" stroke-width="7" stroke-linecap="round"/>
<g fill="#000000"><line x1="441" y1="337.4" x2="604.5" y2="337.4" stroke="#000000" stroke-width="2.6"/><rect x="505" y="319.9" width="35" height="35"/></g>
<text transform="translate(627.5 362) scale(0.95 1)" font-size="86.0">6</text>
<g fill="#FF0000"><line x1="795.5" y1="337.4" x2="959.7" y2="337.4" stroke="#FF0000" stroke-width="2.6"/><circle cx="877.3" cy="337.4" r="19"/></g>
<text transform="translate(981 362) scale(0.95 1)" font-size="86.0">7</text>
<g fill="#0000FF"><line x1="441" y1="442.5" x2="604.5" y2="442.5" stroke="#0000FF" stroke-width="2.6"/><polygon points="522.5,415.8 545.5,455.8 499.5,455.8"/></g>
<text transform="translate(627.5 467.1) scale(0.95 1)" font-size="86.0">8</text>
<g fill="#008080"><line x1="795.5" y1="442.5" x2="959.7" y2="442.5" stroke="#008080" stroke-width="2.6"/><polygon points="877.3,469.2 900.3,429.2 854.3,429.2"/></g>
<text transform="translate(981 467.1) scale(0.95 1)" font-size="86.0">9</text>
<g fill="#FF00FF"><line x1="441" y1="547.6" x2="604.5" y2="547.6" stroke="#FF00FF" stroke-width="2.6"/><polygon points="495.8,547.6 535.8,525.1 535.8,570.1"/></g>
<text transform="translate(629.5 572.2) scale(0.95 1)" font-size="86.0">10</text>
<g fill="#808000"><line x1="795.5" y1="547.6" x2="959.7" y2="547.6" stroke="#808000" stroke-width="2.6"/><polygon points="904,547.6 864,525.1 864,570.1"/></g>
<text transform="translate(983.5 572.2) scale(0.95 1)" font-size="86.0">11</text>
<g fill="#000080"><line x1="441" y1="652" x2="604.5" y2="652" stroke="#000080" stroke-width="2.6"/><polygon points="522.5,628.2 546.2,652 522.5,675.8 498.8,652"/></g>
<text transform="translate(629.5 676.6) scale(0.95 1)" font-size="86.0">12</text>
</svg>
</body></html>
